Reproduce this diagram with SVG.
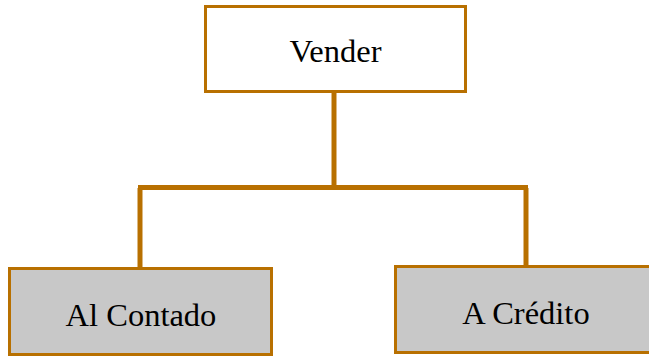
<svg xmlns="http://www.w3.org/2000/svg" width="649" height="357" viewBox="0 0 649 357">
  <style>
    .box { stroke: #B87000; stroke-width: 3; }
    .root { fill: #FFFFFF; }
    .leaf { fill: #C8C8C8; }
    .label { font-family: "Liberation Serif", "Times New Roman", serif; font-size: 32.5px; fill: #000000; text-anchor: middle; }
    .link { stroke: #B87000; fill: none; stroke-linecap: butt; }
  </style>
  <rect width="649" height="357" fill="#FFFFFF"/>
  <g id="connectors">
    <line class="link" x1="334" y1="91" x2="334" y2="188" stroke-width="5"/>
    <line class="link" x1="138" y1="187.5" x2="528" y2="187.5" stroke-width="5"/>
    <line class="link" x1="140" y1="188" x2="140" y2="268" stroke-width="5"/>
    <line class="link" x1="526" y1="188" x2="526" y2="266" stroke-width="5"/>
  </g>
  <g id="vender">
    <rect class="box root" x="205.5" y="6.5" width="260" height="85"/>
    <text class="label" x="335.5" y="61.5">Vender</text>
  </g>
  <g id="al-contado">
    <rect class="box leaf" x="9.5" y="268.5" width="262" height="86"/>
    <text class="label" x="141" y="325.5">Al Contado</text>
  </g>
  <g id="a-credito">
    <rect class="box leaf" x="395.5" y="266.5" width="256" height="86"/>
    <text class="label" x="526" y="323.5">A Crédito</text>
  </g>
</svg>
